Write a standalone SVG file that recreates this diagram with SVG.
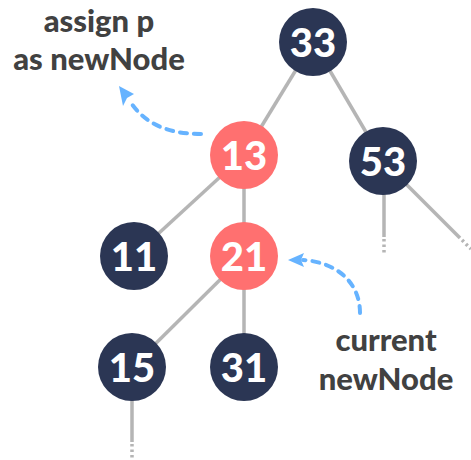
<svg xmlns="http://www.w3.org/2000/svg" width="471" height="460" viewBox="0 0 471 460">
  <style>
    .edge { stroke: #b5b5b5; stroke-width: 3.5; fill: none; }
    .dots { stroke: #b5b5b5; stroke-width: 3.5; fill: none; stroke-dasharray: 2.5 3; }
    .blk { fill: #2b3654; }
    .red { fill: #ff7070; }
    .num { font-family: Lato, "Open Sans", sans-serif; font-weight: 900; font-size: 40px; fill: #ffffff; text-anchor: middle; }
    .lbl { font-family: Lato, "Open Sans", sans-serif; font-weight: 900; font-size: 31px; fill: #414141; text-anchor: middle; }
    .ptr { stroke: #66b3ff; stroke-width: 4; fill: none; stroke-dasharray: 7 7; stroke-linecap: round; }
  </style>

  <g id="connectors">
    <line class="edge" x1="313" y1="42" x2="244" y2="155"/>
    <line class="edge" x1="313" y1="42" x2="383" y2="161"/>
    <line class="edge" x1="244" y1="155" x2="134" y2="256"/>
    <line class="edge" x1="244" y1="155" x2="244" y2="256"/>
    <line class="edge" x1="244" y1="256" x2="132" y2="367"/>
    <line class="edge" x1="244" y1="256" x2="244" y2="367"/>
    <!-- open subtrees below 53 and 15 -->
    <line class="edge" x1="384" y1="161" x2="384" y2="237"/>
    <line class="dots" x1="384" y1="239" x2="384" y2="254"/>
    <line class="edge" x1="383" y1="161" x2="460" y2="238"/>
    <line class="dots" x1="462" y1="240" x2="471" y2="249"/>
    <line class="edge" x1="132" y1="367" x2="132" y2="442"/>
    <line class="dots" x1="132" y1="444" x2="132" y2="460"/>
    <!-- pointer arrows -->
    <path class="ptr" d="M201,134 C165,134 143,122 129,100"/>
    <path d="M119,86 L134,94 L127,98 L123,106 Z" fill="#66b3ff"/>
    <path class="ptr" d="M360,313 C360,282 336,262 303,260"/>
    <path d="M288,260 L304,253 L301,260 L304,267 Z" fill="#66b3ff"/>
  </g>

  <g id="node-33"><circle class="blk" cx="313" cy="42" r="34"/><text class="num" x="313" y="57">33</text></g>
  <g id="node-13"><circle class="red" cx="244" cy="155" r="34"/><text class="num" x="244" y="170">13</text></g>
  <g id="node-53"><circle class="blk" cx="383" cy="161" r="34"/><text class="num" x="383" y="176">53</text></g>
  <g id="node-11"><circle class="blk" cx="134" cy="256" r="34"/><text class="num" x="134" y="271">11</text></g>
  <g id="node-21"><circle class="red" cx="244" cy="256" r="34"/><text class="num" x="244" y="271">21</text></g>
  <g id="node-15"><circle class="blk" cx="132" cy="367" r="34"/><text class="num" x="132" y="382">15</text></g>
  <g id="node-31"><circle class="blk" cx="244" cy="367" r="34"/><text class="num" x="244" y="382">31</text></g>

  <g id="label-assign">
    <text class="lbl" x="99" y="32">assign p</text>
    <text class="lbl" x="99" y="70">as newNode</text>
  </g>
  <g id="label-current">
    <text class="lbl" x="386" y="351">current</text>
    <text class="lbl" x="386" y="390">newNode</text>
  </g>
</svg>
